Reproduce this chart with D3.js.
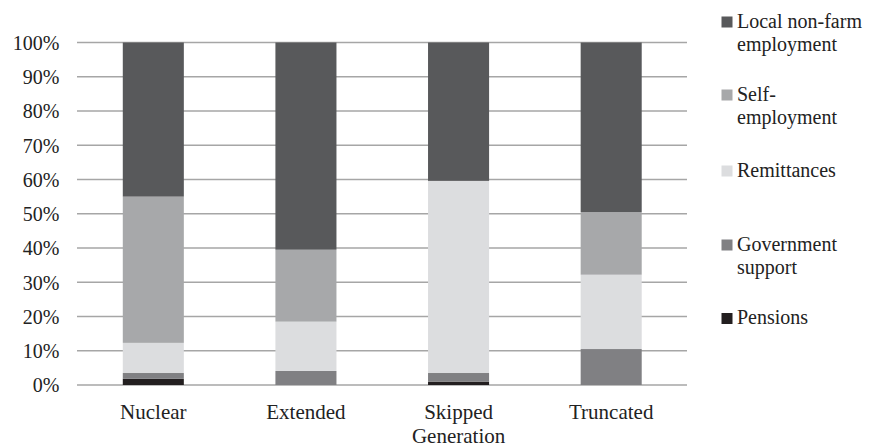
<!DOCTYPE html>
<html><head><meta charset="utf-8">
<script src="https://cdn.jsdelivr.net/npm/d3@7"></script>
<style>body{margin:0;background:#fff}svg{display:block}
svg text{font-family:"Liberation Serif",Tinos,"Times New Roman",Times,"DejaVu Serif",serif;}
</style>
</head><body>
<svg id="c" width="872" height="446"></svg>
<script>
const categories = ["Nuclear", "Extended", "Skipped Generation", "Truncated"];
const pensions   = [1.8, 0, 1.0, 0];
const government = [1.7, 4.1, 2.5, 10.5];
const remittances= [8.8, 14.4, 56.1, 21.7];
const selfEmp    = [42.7, 21.0, 0, 18.3];
const localNonFarm=[45.0, 60.5, 40.4, 49.5];
const seriesNames = ["Pensions","Government support","Remittances","Self-employment","Local non-farm employment"];
const seriesColors = ["#231f20","#808083","#dcdddf","#a7a8aa","#58595b"];
const yTicks = [0,10,20,30,40,50,60,70,80,90,100];

const svg = d3.select("#c");
const x = d3.scaleBand().domain(categories).range([77, 687.5]).paddingInner(0.6).paddingOuter(0.3);
const y = d3.scaleLinear().domain([0,100]).range([385, 42.5]);

const table = categories.map((c,i)=>({cat:c, s0:pensions[i], s1:government[i], s2:remittances[i], s3:selfEmp[i], s4:localNonFarm[i]}));
const stack = d3.stack().keys(["s0","s1","s2","s3","s4"])(table);

svg.append("g").selectAll("line").data(yTicks).join("line")
  .attr("x1",77).attr("x2",687)
  .attr("y1",d=>y(d)).attr("y2",d=>y(d))
  .attr("stroke","#a6a6a6").attr("stroke-width",1.3);

svg.append("g").selectAll("g").data(stack).join("g")
  .attr("fill",(d,i)=>seriesColors[i])
  .selectAll("rect").data(d=>d).join("rect")
  .attr("x",d=>x(d.data.cat))
  .attr("width",x.bandwidth())
  .attr("y",d=>y(d[1]))
  .attr("height",d=>Math.max(0,y(d[0])-y(d[1])));

const yAxis = d3.axisLeft(y).tickValues(yTicks).tickFormat(d=>d+"%").tickSize(0).tickPadding(0);
const ya = svg.append("g").attr("font-family",null).attr("transform","translate(59.5,0)").call(yAxis);
ya.attr("font-family",null);
ya.select(".domain").remove();
ya.selectAll("text").attr("font-size",20).attr("fill","#222").attr("dy","0.34em");

const xAxis = d3.axisBottom(x).tickSize(0).tickPadding(0);
const xa = svg.append("g").call(xAxis);
xa.attr("font-family",null);
xa.select(".domain").remove();
xa.selectAll("text").remove();
xa.selectAll(".tick").each(function(d){
  const words = d === "Skipped Generation" ? ["Skipped","Generation"] : [d];
  const t = d3.select(this).append("text").attr("font-size",21).attr("fill","#222").attr("text-anchor","middle");
  words.forEach((w,i)=>t.append("tspan").attr("x",0).attr("y",419+i*23.5).text(w));
});

const legendItems = [
  {i:4, lines:["Local non-farm","employment"], y:22},
  {i:3, lines:["Self-","employment"], y:95},
  {i:2, lines:["Remittances"], y:171},
  {i:1, lines:["Government","support"], y:245},
  {i:0, lines:["Pensions"], y:318.5}
];
const lg = svg.append("g");
legendItems.forEach(it=>{
  lg.append("rect").attr("x",721.5).attr("y",it.y-5.5).attr("width",11).attr("height",11).attr("fill",seriesColors[it.i]);
  const t = lg.append("text").attr("font-size",20).attr("fill","#222");
  it.lines.forEach((l,k)=>t.append("tspan").attr("x",737).attr("y",it.y+5.5+k*23.5).text(l));
});
</script>
</body></html>
